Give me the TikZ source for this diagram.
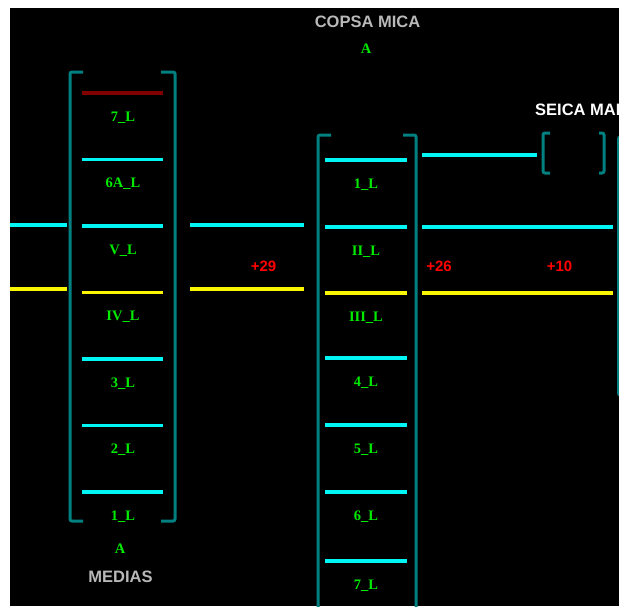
\documentclass[tikz,border=0pt]{standalone}
\usepackage{fontspec}
\setmainfont{Liberation Serif}
\newfontfamily\stationfont{Liberation Sans}
\usepackage{tikz}
\usetikzlibrary{positioning}
\definecolor{busteal}{RGB}{0,128,128}
\definecolor{buscyan}{RGB}{0,245,245}
\definecolor{busyellow}{RGB}{250,245,0}
\definecolor{busred}{RGB}{128,0,0}
\definecolor{baygreen}{RGB}{0,235,0}
\definecolor{stationgray}{RGB}{185,185,185}
\tikzstyle{frame}   = [draw=busteal, line width=3pt, rounded corners=2pt]
\tikzstyle{bus}     = [line width=3.4pt, draw=buscyan]
\tikzstyle{bay}     = [text=baygreen, font=\fontsize{14.5}{14.5}\selectfont\bfseries, anchor=base, inner sep=0pt]
\tikzstyle{station} = [text=stationgray, font=\stationfont\fontsize{16.5}{16.5}\selectfont\bfseries, anchor=base, inner sep=0pt]
\tikzstyle{flow}    = [text=red, font=\stationfont\fontsize{15}{15}\selectfont\bfseries, anchor=base, inner sep=0pt]

\begin{document}
\begin{tikzpicture}[x=1pt, y=-1pt]
		\useasboundingbox (0,0) rectangle (619,606);
		\clip (0,0) rectangle (619,606);
		\fill[black] (10,8) rectangle (619,606);

		% station names
		\node[station] (copsa) at (367.5,27) {COPSA MICA};
		\node[bay] (copsa-a) at (366,53) {A};
		\node[station, text=white, anchor=base west] (seica) at (535,115) {SEICA MARE};
		\node[bay] (medias-a) at (120,553) {A};
		\node[station] (medias) at (120.5,582) {MEDIAS};

		% MEDIAS
		\draw[frame] (83,72) -- (70,72) -- (70,521) -- (83,521);
		\draw[frame] (161,72) -- (175,72) -- (175,521) -- (161,521);
		\foreach \y/\c/\t [count=\i] in {93/busred/7\_L, 159.5/buscyan/6A\_L, 226/buscyan/V\_L,
				292.5/busyellow/IV\_L, 359/buscyan/3\_L, 425.5/buscyan/2\_L, 492/buscyan/1\_L}{
				\draw[bus, draw=\c] (82,\y) -- (163,\y);
				\node[bay] (medias-\i) at (123,\y+28) {\t};
			}

		% COPSA MICA
		\draw[frame] (331,135) -- (318,135) -- (318,640);
		\draw[frame] (403,135) -- (416,135) -- (416,640);
		\foreach \y/\c/\t [count=\i] in {160/buscyan/1\_L, 227/buscyan/II\_L, 293/busyellow/III\_L,
				358/buscyan/4\_L, 425/buscyan/5\_L, 492/buscyan/6\_L, 561/buscyan/7\_L}{
				\draw[bus, draw=\c] (325,\y) -- (407,\y);
				\node[bay] (copsa-\i) at (366,\y+28) {\t};
			}

		% SEICA MARE
		\draw[frame] (550,133) -- (543,133) -- (543,173) -- (550,173);
		\draw[frame] (599,133) -- (604,133) -- (604,173) -- (599,173);
		\draw[frame] (632,137) -- (618.5,137) -- (618.5,395) -- (632,395);

		% line ends
		\coordinate (west-1) at (10,225);
		\coordinate (west-2) at (10,289);
		\coordinate (medias-w1) at (67,225);
		\coordinate (medias-w2) at (67,289);
		\coordinate (medias-e1) at (190,225);
		\coordinate (medias-e2) at (190,289);
		\coordinate (copsa-w1) at (304,225);
		\coordinate (copsa-w2) at (304,289);
		\coordinate (copsa-e0) at (422,155);
		\coordinate (copsa-e1) at (422,227);
		\coordinate (copsa-e2) at (422,293);
		\coordinate (seica-w0) at (537,155);
		\coordinate (seica-w1) at (613,227);
		\coordinate (seica-w2) at (613,293);

		\draw[bus] (west-1) -- (medias-w1);
		\draw[bus, draw=busyellow] (west-2) -- (medias-w2);
		\draw[bus] (medias-e1) -- (copsa-w1);
		\draw[bus, draw=busyellow] (medias-e2) -- (copsa-w2);
		\draw[bus] (copsa-e0) -- (seica-w0);
		\draw[bus] (copsa-e1) -- (seica-w1);
		\draw[bus, draw=busyellow] (copsa-e2) -- (seica-w2);

		% flows
		\node[flow] (flow-mc) at (263.5,271) {+29};
		\node[flow] (flow-cs) at (439,271) {+26};
		\node[flow] (flow-s) at (559.5,271) {+10};
	\end{tikzpicture}
\end{document}
